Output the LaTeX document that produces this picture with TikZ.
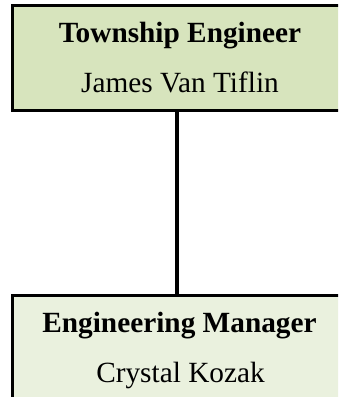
\documentclass[tikz,border=0pt]{standalone}
\usepackage{fontspec}
\setmainfont{Liberation Serif}
\definecolor{topfill}{HTML}{D7E4BD}
\definecolor{botfill}{HTML}{EAF1DE}
\begin{document}
\begin{tikzpicture}[x=1pt,y=-1pt,
  orgbox/.style={draw=black, line width=3pt, rectangle, inner sep=0pt, outer sep=0pt, anchor=north west, minimum width=360pt},
  titletext/.style={font=\fontsize{29.3}{35}\selectfont\bfseries, anchor=base, inner sep=0pt},
  nametext/.style={font=\fontsize{29.3}{35}\selectfont, anchor=base, inner sep=0pt},
  link/.style={draw=black, line width=4pt}]
\useasboundingbox (0,0) rectangle (338,397);
\clip (0,0) rectangle (338,397);
\node[orgbox, fill=topfill, minimum height=105.5pt] (top) at (12.5,5) {};
\node[orgbox, fill=botfill, minimum height=200pt] (bottom) at (12.5,295.5) {};
\coordinate (linkx) at (177,0);
\draw[link] (top.south -| linkx) -- (bottom.north -| linkx);
\node[titletext] (toptitle) at (180,42) {Township Engineer};
\node[nametext] (topname) at (180,92) {James Van Tiflin};
\node[titletext] (bottitle) at (179.5,332.7) {Engineering Manager};
\node[nametext] (botname) at (180.5,382.7) {Crystal Kozak};
\end{tikzpicture}
\end{document}
